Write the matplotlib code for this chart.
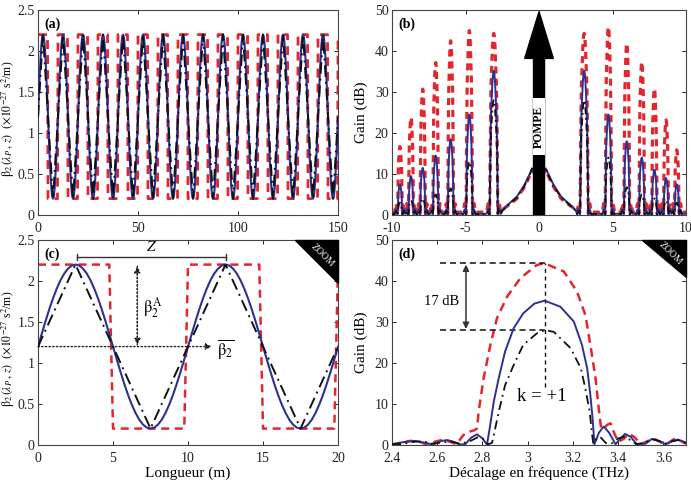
import numpy as np
import matplotlib
matplotlib.use('Agg')
import matplotlib.pyplot as plt
from matplotlib.patches import Polygon, Rectangle, FancyArrow

plt.rcParams['font.family'] = ['Liberation Serif', 'DejaVu Serif']
plt.rcParams['mathtext.fontset'] = 'stix'
plt.rcParams['font.size'] = 10
plt.rcParams['axes.unicode_minus'] = False
plt.rcParams['axes.edgecolor'] = '#444444'
plt.rcParams['xtick.direction'] = 'in'
plt.rcParams['ytick.direction'] = 'in'
plt.rcParams['xtick.top'] = True
plt.rcParams['ytick.right'] = True

RED = '#e3262d'
BLUE = '#2e3190'
BLACK = '#111111'

# ---- beta2(z) profiles, x1e-27 s^2/m, one 10 m period
PERIOD = 10.0
SINE_STEP = 0.25
SINE_BETA = [1.200, 1.356, 1.509, 1.654, 1.788, 1.907, 2.009, 2.091, 2.151, 2.188,
             2.200, 2.188, 2.151, 2.091, 2.009, 1.907, 1.788, 1.654, 1.509, 1.356,
             1.200, 1.044, 0.891, 0.746, 0.612, 0.493, 0.391, 0.309, 0.249, 0.212,
             0.200, 0.212, 0.249, 0.309, 0.391, 0.493, 0.612, 0.746, 0.891, 1.044]
TRI_Z = [0.0, 2.5, 7.5]
TRI_BETA = [1.2, 2.2, 0.2]
SQ_Z = [0.0, 4.75, 5.0, 9.75]
SQ_BETA = [2.2, 2.2, 0.2, 0.2]

# ---- panel (b): gain peaks (dB) at the quasi-phase-matched frequencies (THz)
B_CENTERS = [-9.46, -8.71, -7.91, -7.03, -6.01, -4.74, -3.08,
             3.07, 4.72, 5.97, 6.99, 7.85, 8.64, 9.37]
RED_PEAKS = [16.7, 23.8, 30.7, 37.2, 42.5, 45.0, 44.3,
             44.3, 45.9, 41.9, 37.4, 30.9, 23.2, 15.9]
BLUE_PEAKS = [7.5, 9.5, 11.5, 14.5, 18.5, 24.5, 35.2,
              35.2, 24.5, 18.0, 14.0, 11.0, 9.0, 7.5]
BLACK_PEAKS = [3.0, 3.5, 4.0, 5.0, 6.5, 13.0, 28.0,
               28.0, 14.0, 6.8, 5.0, 4.0, 3.5, 3.0]
# half-width of each peak (THz)
B_HALF = [0.16, 0.17, 0.18, 0.19, 0.20, 0.22, 0.28,
          0.28, 0.22, 0.20, 0.19, 0.18, 0.17, 0.16]
# normalised peak profile (offset / half-width, relative gain) from panel (d)
PEAK_DX = [-1.0, -0.93, -0.87, -0.77, -0.65, -0.48, -0.32, -0.16, 0.0,
           0.16, 0.32, 0.48, 0.65, 0.77, 0.87, 0.93, 1.0]
PEAK_REL = [0.0, 0.18, 0.37, 0.55, 0.72, 0.83, 0.92, 0.98, 1.0,
            0.98, 0.92, 0.83, 0.72, 0.55, 0.37, 0.18, 0.0]
# modulation-instability hump around the pump
HUMP_X = [-2.5, -2.0, -1.5, -1.0, -0.7, -0.45, -0.3,
          0.3, 0.45, 0.7, 1.0, 1.5, 2.0, 2.5]
HUMP_RED = [1.3, 2.6, 4.0, 6.8, 9.0, 11.0, 10.0,
            10.0, 11.0, 9.0, 6.8, 4.0, 2.6, 1.3]
HUMP_BLUE = [1.2, 2.9, 4.5, 7.3, 9.5, 11.4, 10.5,
             10.5, 11.4, 9.5, 7.3, 4.5, 2.9, 1.2]
HUMP_BLACK = [1.0, 2.7, 4.3, 7.0, 9.2, 11.6, 10.8,
              10.8, 11.6, 9.2, 7.0, 4.3, 2.7, 1.0]
BASE = {'red': 0.7, 'blue': 0.3, 'black': 0.2}
SIDE = {'red': 2.8, 'blue': 1.4, 'black': 1.0}

# ---- panel (d): zoom on k = +1
D_RED_X = [2.40, 2.44, 2.48, 2.52, 2.555, 2.59, 2.625, 2.655, 2.686, 2.715, 2.745,
           2.765, 2.776, 2.783, 2.805, 2.835, 2.864, 2.909, 2.968, 3.04, 3.075,
           3.16, 3.218, 3.255, 3.277, 3.30, 3.314, 3.325, 3.34, 3.351, 3.366, 3.38,
           3.40, 3.425, 3.446, 3.47, 3.50, 3.54, 3.56, 3.59, 3.62, 3.645, 3.67, 3.70]
D_RED_Y = [0.1, 0.6, 1.0, 0.8, 0.1, 0.8, 1.3, 0.8, 0.2, 2.4, 3.3,
           3.6, 4.1, 8.1, 16.3, 24.4, 30.9, 36.2, 40.7, 43.9, 44.3,
           42.3, 37.4, 31.7, 24.4, 16.3, 8.9, 4.0, 4.2, 4.9, 5.3, 3.2,
           0.8, 1.5, 2.8, 2.0, 0.2, 1.2, 1.5, 0.6, 0.4, 1.4, 1.2, 0.3]
D_BLUE_X = [2.40, 2.45, 2.50, 2.55, 2.58, 2.62, 2.645, 2.67, 2.70, 2.724, 2.75,
            2.776, 2.80, 2.82, 2.832, 2.85, 2.872, 2.90, 2.938, 2.98, 3.03, 3.075,
            3.145, 3.204, 3.24, 3.263, 3.277, 3.288, 3.295, 3.315, 3.336, 3.36,
            3.388, 3.41, 3.43, 3.455, 3.48, 3.52, 3.55, 3.58, 3.61, 3.64, 3.665, 3.70]
D_BLUE_Y = [0.1, 0.7, 1.0, 0.5, 0.1, 1.0, 1.2, 0.8, 0.1, 0.2, 1.8,
            2.6, 1.6, 0.1, 4.1, 10.6, 16.3, 22.8, 28.5, 32.1, 34.5, 35.2,
            33.7, 30.1, 24.4, 18.7, 12.2, 5.7, 0.2, 3.0, 4.5, 3.0,
            0.2, 1.5, 2.7, 2.0, 0.3, 0.3, 1.5, 1.0, 0.2, 1.0, 1.3, 0.6]
D_BLACK_X = [2.40, 2.44, 2.50, 2.54, 2.57, 2.62, 2.66, 2.70, 2.74, 2.78, 2.80,
             2.825, 2.842, 2.85, 2.872, 2.90, 2.938, 2.98, 3.04, 3.075, 3.115,
             3.19, 3.235, 3.255, 3.274, 3.285, 3.29, 3.305, 3.32, 3.345, 3.37,
             3.40, 3.425, 3.45, 3.48, 3.52, 3.55, 3.58, 3.61, 3.64, 3.665, 3.70]
D_BLACK_Y = [0.3, 0.2, 0.8, 0.9, 0.3, 0.6, 0.9, 0.3, 0.8, 1.9, 1.6,
             0.2, 0.5, 2.4, 8.1, 14.6, 19.5, 24.4, 27.2, 28.0, 27.6,
             23.6, 18.7, 13.8, 8.1, 2.4, 0.3, 1.6, 2.0, 0.5, 0.3,
             1.6, 2.0, 1.3, 0.2, 0.5, 1.4, 1.0, 0.3, 0.9, 1.2, 0.4]


def tiled(z, v, n, end_value):
    zz = np.concatenate([np.asarray(z) + k * PERIOD for k in range(n)] + [[n * PERIOD]])
    vv = np.concatenate([np.asarray(v)] * n + [[end_value]])
    return zz, vv


def sine_curve(n):
    z1 = np.arange(len(SINE_BETA)) * SINE_STEP
    return tiled(z1, SINE_BETA, n, SINE_BETA[0])


def spectrum(peaks, hump, key):
    base, side = BASE[key], SIDE[key]
    xs, ys = [-10.0], [base]
    hump_done = False
    for c, h, w in zip(B_CENTERS, peaks, B_HALF):
        if c > 0 and not hump_done:
            xs.extend(HUMP_X)
            ys.extend(hump)
            hump_done = True
        xs.extend([c - w - 0.2, c - w - 0.1, c - w - 0.03])
        ys.extend([base, side, base])
        xs.extend([c + d * w for d in PEAK_DX])
        ys.extend([max(h * r, base * 0.5) for r in PEAK_REL])
        xs.extend([c + w + 0.03, c + w + 0.1, c + w + 0.2])
        ys.extend([base, side, base])
    xs.append(10.0)
    ys.append(base)
    return xs, ys


def style(ax, label):
    ax.tick_params(length=3, width=0.7, colors='#222222', labelsize=10)
    ax.tick_params(axis='x', pad=5)
    ax.tick_params(axis='y', pad=2.5)
    for s in ax.spines.values():
        s.set_linewidth(0.8)
    ax.text(0.022, 0.965, label, transform=ax.transAxes, fontweight='bold',
            fontsize=10, va='top', ha='left')


def zoom_badge(ax, wfrac, hfrac):
    tri = Polygon([(1 - wfrac, 1), (1, 1), (1, 1 - hfrac)], closed=True,
                  transform=ax.transAxes, color='black', zorder=10, clip_on=False)
    ax.add_patch(tri)
    ax.text(1 - wfrac * 0.36, 1 - hfrac * 0.36, 'ZOOM', transform=ax.transAxes,
            rotation=-45, color='white', fontsize=7, ha='center', va='center',
            zorder=11)


fig = plt.figure(figsize=(6.91, 4.82), dpi=100)
ax_a = fig.add_axes([0.0550, 0.5539, 0.4342, 0.4253])
ax_b = fig.add_axes([0.5673, 0.5539, 0.4255, 0.4253])
ax_c = fig.add_axes([0.0550, 0.0768, 0.4342, 0.4253])
ax_d = fig.add_axes([0.5673, 0.0768, 0.4255, 0.4253])

ylab_beta = r'$\mathrm{\beta}_2\,(\lambda_P\,,\,z)$  $(\times10^{-27}$ s$^2$/m)'

# (a) and (c): dispersion profiles
for ax, n in ((ax_a, 15), (ax_c, 2)):
    zs, vs = sine_curve(n)
    zt, vt = tiled(TRI_Z, TRI_BETA, n, TRI_BETA[0])
    zq, vq = tiled(SQ_Z, SQ_BETA, n, SQ_BETA[0])
    lw_r = 2.0 if ax is ax_a else 1.8
    ax.plot(zq, vq, color=RED, ls=(0, (3.2, 2.2)), lw=lw_r, zorder=2)
    ax.plot(zs, vs, color=BLUE, lw=1.5, zorder=3)
    ax.plot(zt, vt, color=BLACK, ls=(0, (6, 2.5, 1, 2.5)), lw=1.4, zorder=4)
    ax.set_xlim(0, n * PERIOD)
    ax.set_ylim(0, 2.5)
    ax.set_yticks([0, 0.5, 1, 1.5, 2, 2.5])
    ax.set_yticklabels(['0', '0.5', '1', '1.5', '2', '2.5'])
    ax.set_ylabel(ylab_beta, fontsize=8.5)
    ax.yaxis.set_label_coords(-0.069, 0.47)

ax_a.set_xticks([0, 50, 100, 150])
style(ax_a, '(a)')

ax_c.set_xticks([0, 5, 10, 15, 20])
ax_c.set_xlabel('Longueur (m)', fontsize=11, labelpad=1)
style(ax_c, '(c)')
zoom_badge(ax_c, 43 / 300, 43 / 205)

# annotations in (c)
ax_c.plot([2.6, 12.55], [2.29, 2.29], color='#333333', lw=1.0)
ax_c.plot([2.6, 2.6], [2.25, 2.33], color='#333333', lw=1.0)
ax_c.plot([12.55, 12.55], [2.25, 2.33], color='#333333', lw=1.0)
ax_c.text(7.6, 2.33, r'$Z$', fontsize=11, ha='center', va='bottom')
ax_c.annotate('', xy=(6.62, 2.18), xytext=(6.62, 1.22),
              arrowprops=dict(arrowstyle='-|>', ls=':', color='#222222', lw=1.0,
                              mutation_scale=9, shrinkA=0, shrinkB=0))
ax_c.annotate('', xy=(6.62, 1.22), xytext=(6.62, 2.18),
              arrowprops=dict(arrowstyle='-|>', ls=':', color='#222222', lw=1.0,
                              mutation_scale=9, shrinkA=0, shrinkB=0))
ax_c.text(7.0, 1.67, r'$\mathrm{\beta}_2^{\,\mathrm{A}}$', fontsize=12, ha='left', va='center')
ax_c.annotate('', xy=(11.6, 1.2), xytext=(0, 1.2),
              arrowprops=dict(arrowstyle='-|>', ls=':', color='#222222', lw=1.0,
                              mutation_scale=9, shrinkA=0, shrinkB=0))
ax_c.text(11.9, 1.17, r'$\overline{\mathrm{\beta}_2}$', fontsize=12, ha='left', va='center')

# (b): gain spectrum
for peaks, hump, key, col, ls, lw, zo in (
        (RED_PEAKS, HUMP_RED, 'red', RED, (0, (2.2, 1.6)), 2.3, 2),
        (BLUE_PEAKS, HUMP_BLUE, 'blue', BLUE, '-', 1.4, 3),
        (BLACK_PEAKS, HUMP_BLACK, 'black', BLACK, (0, (4, 2, 1, 2)), 1.3, 4)):
    xs, ys = spectrum(peaks, hump, key)
    ax_b.plot(xs, ys, color=col, ls=ls, lw=lw, zorder=zo)

ax_b.add_patch(FancyArrow(0, 0, 0, 49.6, width=0.75, head_width=1.95, head_length=11.4,
                          length_includes_head=True, color='black', zorder=6))
ax_b.add_patch(Rectangle((-0.4, 14.6), 0.8, 13.9, facecolor='white', edgecolor='none',
                         zorder=7))
ax_b.text(0, 21.5, 'POMPE', rotation=90, fontweight='bold', fontsize=8.5,
          ha='center', va='center', zorder=8)
ax_b.set_xlim(-10, 10)
ax_b.set_ylim(0, 50)
ax_b.set_xticks([-10, -5, 0, 5, 10])
ax_b.set_yticks([0, 10, 20, 30, 40, 50])
ax_b.set_ylabel('Gain (dB)', fontsize=11)
ax_b.yaxis.set_label_coords(-0.08, 0.5)
style(ax_b, '(b)')

# (d): zoom on first peak
ax_d.plot(D_RED_X, D_RED_Y, color=RED, ls=(0, (3.5, 2.2)), lw=1.8, zorder=2)
ax_d.plot(D_BLUE_X, D_BLUE_Y, color=BLUE, lw=1.4, zorder=3)
ax_d.plot(D_BLACK_X, D_BLACK_Y, color=BLACK, ls=(0, (5, 2.5, 1, 2.5)), lw=1.3, zorder=4)
ax_d.plot([2.614, 3.075], [44.3, 44.3], color=BLACK, ls=(0, (4, 2.5)), lw=1.1)
ax_d.plot([2.614, 3.075], [28.0, 28.0], color=BLACK, ls=(0, (4, 2.5)), lw=1.1)
ax_d.plot([3.075, 3.075], [14.2, 44.3], color=BLACK, ls=(0, (3, 2.5)), lw=1.0)
ax_d.annotate('', xy=(2.727, 44.0), xytext=(2.727, 28.3),
              arrowprops=dict(arrowstyle='<|-|>', color='#333333', lw=1.1,
                              mutation_scale=9, shrinkA=0, shrinkB=0))
ax_d.text(2.62, 35.0, '17 dB', fontsize=10.5, ha='center', va='center')
ax_d.text(3.063, 11.8, 'k = +1', fontsize=13.5, ha='center', va='center')
ax_d.set_xlim(2.4, 3.7)
ax_d.set_ylim(0, 50)
ax_d.set_xticks([2.4, 2.6, 2.8, 3.0, 3.2, 3.4, 3.6])
ax_d.set_xticklabels(['2.4', '2.6', '2.8', '3', '3.2', '3.4', '3.6'])
ax_d.set_yticks([0, 10, 20, 30, 40, 50])
ax_d.set_ylabel('Gain (dB)', fontsize=11)
ax_d.yaxis.set_label_coords(-0.08, 0.5)
ax_d.set_xlabel('Décalage en fréquence (THz)', fontsize=11, labelpad=1)
style(ax_d, '(d)')
zoom_badge(ax_d, 44 / 294, 37 / 205)

fig.savefig('out.png', dpi=100)
